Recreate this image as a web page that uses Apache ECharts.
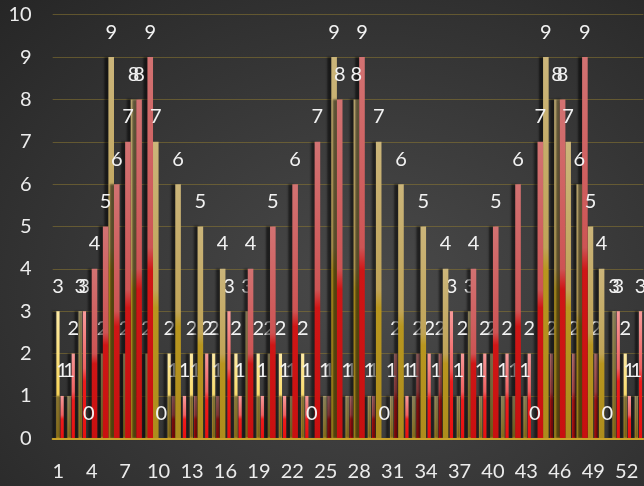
<!DOCTYPE html>
<html>
<head>
<meta charset="utf-8">
<script src="https://cdn.jsdelivr.net/npm/echarts@6/dist/echarts.min.js"></script>
<style>
  html, body { margin: 0; padding: 0; }
  #chart {
    width: 644px;
    height: 486px;
    background: radial-gradient(ellipse at 58% 60%, #4a4a4a 0%, #3a3a3a 45%, #262626 100%);
  }
</style>
</head>
<body>
<div id="chart"></div>
<script>
// categories 1..53
var categories = ['1','2','3','4','5','6','7','8','9','10','11','12','13','14','15','16','17','18','19','20',
  '21','22','23','24','25','26','27','28','29','30','31','32','33','34','35','36','37','38','39','40',
  '41','42','43','44','45','46','47','48','49','50','51','52','53'];

// wide bars (gold = left, red = right), '-' = no bar
var goldWide = ['-','-','-',0,'-',9,'-',8,'-',7,'-',6,'-',5,'-',4,'-','-','-','-',
  '-','-','-',0,'-',9,'-',8,'-',7,'-',6,'-',5,'-',4,'-','-','-','-',
  '-','-','-',0,9,8,7,6,5,4,'-','-','-'];
var redWide = ['-','-','-',4,5,6,7,8,9,0,'-','-','-','-','-','-','-',4,'-',5,
  '-',6,'-',7,'-',8,'-',9,'-',0,'-','-','-','-','-','-','-',4,'-',5,
  '-',6,'-',7,'-',8,'-',9,'-',0,'-','-','-'];

// thin bars (yellow = left, red = right)
var yellowThin = [3,1,3,'-',2,'-',2,'-',2,'-',2,'-',2,'-',2,'-',2,3,2,2,
  2,1,2,'-',1,'-',1,'-',1,'-',1,'-',1,'-',1,'-',1,3,1,2,
  1,1,1,'-','-','-','-','-','-','-',3,2,1];
var redThin = [1,2,3,'-','-','-','-','-','-','-',1,1,1,2,1,3,1,'-',1,'-',
  1,'-',1,'-',1,'-',1,'-',1,'-',2,1,2,2,2,3,2,'-',2,'-',
  2,'-',2,'-',2,'-',2,'-',2,'-',3,1,3];

function grad(stops) {
  return new echarts.graphic.LinearGradient(0, 0, 0, 1, stops);
}

var labelStyle = {
  show: true,
  position: 'top',
  distance: 15,
  color: '#f2f2f2',
  fontSize: 20,
  fontFamily: 'Lato'
};

var shadow = {
  shadowColor: 'rgba(0,0,0,0.55)',
  shadowOffsetX: -4,
  shadowOffsetY: 0,
  shadowBlur: 2
};

var myChart = echarts.init(document.getElementById('chart'));
var option = {
  backgroundColor: 'transparent',
  animation: false,
  grid: [
    { left: 52.7, width: 590.7, top: 14.7, height: 423.6 },
    { left: 54.5, width: 590.7, top: 14.7, height: 423.6 }
  ],
  xAxis: [
    {
      type: 'category',
      gridIndex: 0,
      data: categories,
      axisLine: { lineStyle: { color: '#c9a12a', width: 2 } },
      axisTick: { show: false },
      axisLabel: {
        interval: 2,
        color: '#ececec',
        fontSize: 20,
        fontFamily: 'Lato',
        margin: 23
      },
      z: 5
    },
    {
      type: 'category',
      gridIndex: 1,
      data: categories,
      show: false
    }
  ],
  yAxis: [
    {
      type: 'value',
      gridIndex: 0,
      min: 0,
      max: 10,
      interval: 1,
      axisLine: { show: false },
      axisTick: { show: false },
      axisLabel: {
        color: '#ececec',
        fontSize: 20,
        fontFamily: 'Lato',
        margin: 21
      },
      splitLine: { lineStyle: { color: 'rgba(140,120,50,0.55)', width: 1 } }
    },
    {
      type: 'value',
      gridIndex: 1,
      min: 0,
      max: 10,
      interval: 1,
      show: false,
      splitLine: { show: false }
    }
  ],
  series: [
    {
      name: 'yellowThin',
      type: 'bar',
      xAxisIndex: 1,
      yAxisIndex: 1,
      data: yellowThin,
      barWidth: 3.2,
      barGap: '30%',
      z: 2,
      itemStyle: Object.assign({
        color: grad([
          { offset: 0, color: '#fdeaa5' },
          { offset: 0.5, color: '#f9db6c' },
          { offset: 1, color: '#f3c228' }
        ])
      }, shadow),
      label: labelStyle
    },
    {
      name: 'redThin',
      type: 'bar',
      xAxisIndex: 1,
      yAxisIndex: 1,
      data: redThin,
      barWidth: 3.2,
      barGap: '30%',
      z: 2,
      itemStyle: Object.assign({
        color: grad([
          { offset: 0, color: '#f79a9a' },
          { offset: 0.45, color: '#f06060' },
          { offset: 0.55, color: '#ee1c1c' },
          { offset: 1, color: '#e81010' }
        ])
      }, shadow),
      label: labelStyle
    },
    {
      name: 'goldWide',
      type: 'bar',
      xAxisIndex: 0,
      yAxisIndex: 0,
      data: goldWide,
      barWidth: 5.6,
      barGap: '0%',
      z: 3,
      itemStyle: Object.assign({
        color: grad([
          { offset: 0, color: '#cbb57a' },
          { offset: 0.5, color: '#c0a458' },
          { offset: 0.56, color: '#b8961f' },
          { offset: 1, color: '#ad8c1c' }
        ])
      }, shadow),
      label: labelStyle
    },
    {
      name: 'redWide',
      type: 'bar',
      xAxisIndex: 0,
      yAxisIndex: 0,
      data: redWide,
      barWidth: 5.6,
      barGap: '0%',
      z: 3,
      itemStyle: Object.assign({
        color: grad([
          { offset: 0, color: '#d27272' },
          { offset: 0.5, color: '#cd5454' },
          { offset: 0.56, color: '#cf1616' },
          { offset: 1, color: '#c81010' }
        ])
      }, shadow),
      label: labelStyle
    }
  ]
};
myChart.setOption(option);
</script>
</body>
</html>
